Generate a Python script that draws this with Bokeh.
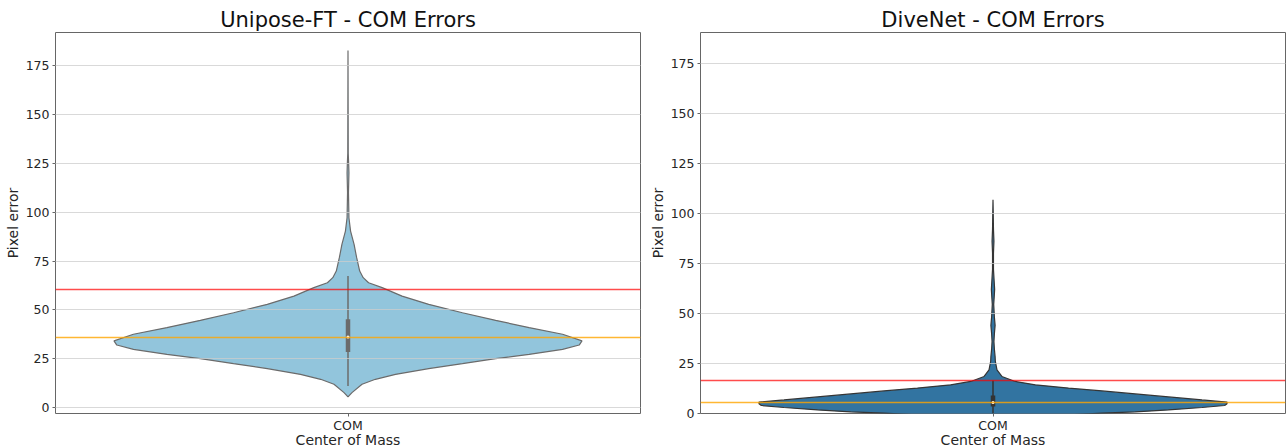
from bokeh.plotting import figure
from bokeh.layouts import row
from bokeh.models import FixedTicker, Range1d
from bokeh.embed import file_html
from bokeh.resources import INLINE

# ---------------- data ----------------
categories = ["COM"]
x_label = "Center of Mass"
y_label = "Pixel error"
y_ticks = [0, 25, 50, 75, 100, 125, 150, 175]

uni_title = "Unipose-FT - COM Errors"
# violin profile: error value and relative half-width (1 = widest)
uni_y = [5.6, 7.8, 12.1, 14.6, 17.1, 20.1, 22.6, 25.2, 27.3, 29.9, 32.1, 34.2,
         37.6, 41.0, 44.7, 48.6, 52.9, 57.1, 61.4, 63.9, 66.5, 69.9, 76.7,
         83.5, 90.3, 97.1, 110.0, 120.0, 124.0, 130.0, 182.5]
uni_w = [0.0, 0.017, 0.06, 0.117, 0.203, 0.345, 0.489, 0.631, 0.774, 0.917, 0.988, 1.0,
         0.917, 0.774, 0.631, 0.489, 0.345, 0.231, 0.146, 0.088, 0.065, 0.05, 0.037,
         0.026, 0.011, 0.004, 0.002, 0.004, 0.003, 0.001, 0.0]
# whisker low, q1, median, q3, whisker high
uni_box = [11.2, 28.6, 36.2, 45.3, 67.3]
uni_red = 60.6
uni_orange = 36.0

dive_title = "DiveNet - COM Errors"
dive_y = [-5.0, -3.0, -1.5, -0.5, 0.15, 0.8, 1.8, 3.0, 4.0, 4.85, 5.7, 6.8, 8.3,
          9.8, 11.3, 12.7, 14.3, 16.0, 18.5, 21.8, 26.0, 28.5, 32.0, 36.0, 40.0,
          44.0, 48.0, 54.5, 58.0, 62.0, 66.0, 72.0, 80.0, 86.0, 92.0, 100.0, 106.8]
dive_w = [0.0, 0.08, 0.2, 0.35, 0.466, 0.608, 0.75, 0.893, 0.99, 1.0, 1.0, 0.893, 0.75,
          0.608, 0.466, 0.323, 0.181, 0.095, 0.038, 0.017, 0.01, 0.009, 0.006, 0.004, 0.006,
          0.009, 0.006, 0.003, 0.005, 0.007, 0.005, 0.002, 0.002, 0.004, 0.002, 0.001, 0.0]
dive_box = [0.0, 3.5, 5.5, 9.0, 16.5]
dive_red = 16.5
dive_orange = 5.6

FONT = "DejaVu Sans"


def make_panel(title, ys, ws, box, red, orange, fill, edge, box_color,
               y_start, y_end, width, border_left, border_right):
    p = figure(width=width, height=450, output_backend="svg", toolbar_location=None,
               x_range=Range1d(-0.5, 0.5), y_range=Range1d(y_start, y_end),
               min_border_left=border_left, min_border_right=border_right,
               min_border_top=32, min_border_bottom=37, title=title)
    p.title.text_font = FONT
    p.title.text_font_size = "21px"
    p.title.text_font_style = "normal"
    p.title.align = "center"
    p.title.text_color = "#111111"
    p.title.standoff = 2
    p.title.text_line_height = 1.0

    half = 0.4
    xs = [half * w for w in ws] + [-half * w for w in reversed(ws)]
    yy = list(ys) + list(reversed(ys))
    p.patch(xs, yy, fill_color=fill, line_color=edge, line_width=1.2)

    # inner box plot
    p.segment(x0=[0], y0=[box[0]], x1=[0], y1=[box[4]], line_color=box_color, line_width=1.5)
    p.segment(x0=[0], y0=[box[1]], x1=[0], y1=[box[3]], line_color=box_color,
              line_width=4.5, line_cap="butt")
    p.scatter(x=[0], y=[box[2]], size=3, fill_color="white", line_color=None)

    p.hspan(y=[red], line_color="red", line_alpha=0.7, line_width=1.5)
    p.hspan(y=[orange], line_color="orange", line_alpha=0.8, line_width=1.5)

    p.xgrid.visible = False
    p.ygrid.grid_line_color = "#cccccc"
    p.ygrid.grid_line_width = 1
    p.ygrid.level = "overlay"
    p.ygrid.grid_line_alpha = 0.75
    p.ygrid.ticker = FixedTicker(ticks=y_ticks)

    p.yaxis.ticker = FixedTicker(ticks=y_ticks)
    p.xaxis.ticker = FixedTicker(ticks=[0])
    p.xaxis.major_label_overrides = {0: categories[0]}
    p.xaxis.axis_label = x_label
    p.yaxis.axis_label = y_label

    for ax in (p.xaxis, p.yaxis):
        ax.axis_line_color = None
        ax.major_tick_line_color = "#666666"
        ax.major_tick_out = 3
        ax.major_tick_in = 0
        ax.minor_tick_line_color = None
        ax.major_label_text_font = FONT
        ax.major_label_text_font_size = "12.5px"
        ax.major_label_text_color = "#262626"
        ax.major_label_standoff = 3
        ax.axis_label_text_font = FONT
        ax.axis_label_text_font_size = "14px"
        ax.axis_label_text_font_style = "normal"
        ax.axis_label_text_color = "#262626"
        ax.axis_label_standoff = 2
    p.xaxis.major_label_standoff = 1
    p.xaxis.axis_label_standoff = -4

    p.outline_line_color = "#666666"
    p.outline_line_width = 1
    p.background_fill_color = "white"
    p.border_fill_color = "white"
    return p


left = make_panel(uni_title, uni_y, uni_w, uni_box, uni_red, uni_orange,
                  "#92c5dc", "#6b6b6b", "#6b6b6b", -2.86, 191.7, 645, 55, 5)
right = make_panel(dive_title, dive_y, dive_w, dive_box, dive_red, dive_orange,
                   "#3274a1", "#353535", "#333333", 0, 190.3, 642, 55, 2)

layout = row(left, right, spacing=0)
# let the lowest axis label run past the window edge (as in the original image)
layout.styles = {"margin-bottom": "-20px"}
open("out.html", "w").write(file_html(layout, INLINE))
